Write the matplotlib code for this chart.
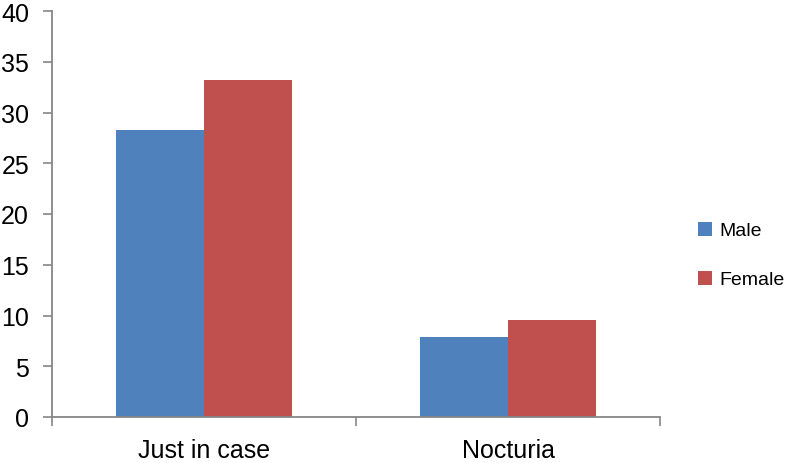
import numpy as np
import matplotlib.pyplot as plt
from matplotlib.patches import Patch

# Data
categories = ['Just in case', 'Nocturia']
male = [28.3, 7.9]
female = [33.2, 9.55]
series_names = ['Male', 'Female']
y_ticks = [0, 5, 10, 15, 20, 25, 30, 35, 40]

blue = '#4F81BD'
red = '#C0504D'
axis_col = '#868686'

plt.rcParams['font.family'] = ['Liberation Sans', 'DejaVu Sans']

fig = plt.figure(figsize=(7.87, 4.64), dpi=100)
ax = fig.add_axes([52 / 787, 1 - 418 / 464, (660 - 52) / 787, (418 - 12) / 464])

x = np.arange(len(categories))
w = 0.29
ax.bar(x - w / 2, male, w, color=blue, zorder=2)
ax.bar(x + w / 2, female, w, color=red, zorder=2)

ax.set_xlim(-0.5, len(categories) - 0.5)
ax.set_ylim(0, 40)
ax.set_yticks(y_ticks)
ax.set_yticklabels([str(t) for t in y_ticks])

# category labels centered, tick marks at category boundaries
ax.set_xticks(x)
ax.set_xticklabels(categories)
ax.set_xticks(np.arange(-0.5, len(categories), 1.0), minor=True)
ax.tick_params(axis='x', which='major', length=0, pad=15, labelsize=18)
ax.tick_params(axis='x', which='minor', length=6.5, width=1.2, color=axis_col, direction='out')
ax.tick_params(axis='y', length=6.5, width=1.2, color=axis_col, pad=10, labelsize=18)

for s in ['top', 'right']:
    ax.spines[s].set_visible(False)
for s in ['left', 'bottom']:
    ax.spines[s].set_color(axis_col)
    ax.spines[s].set_linewidth(1.3)

handles = [Patch(facecolor=blue, label=series_names[0]),
           Patch(facecolor=red, label=series_names[1])]
fig.legend(handles=handles, loc='center left', bbox_to_anchor=(680 / 787, 1 - 256 / 464),
           frameon=False, fontsize=14, handlelength=0.75, handleheight=0.75,
           handletextpad=0.35, labelspacing=1.6)

fig.savefig('out.png', dpi=100)
